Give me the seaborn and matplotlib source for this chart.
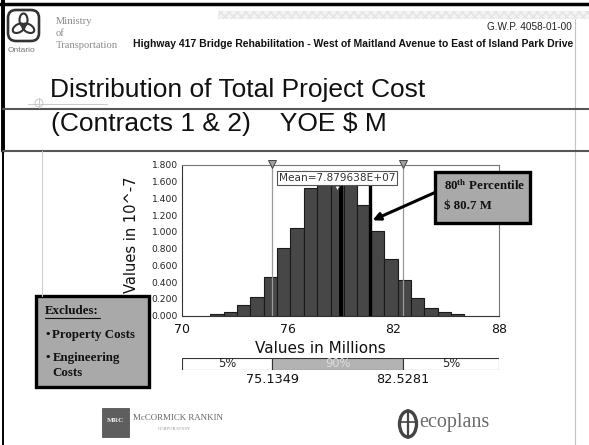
import numpy as np
import pandas as pd
import matplotlib
matplotlib.use("Agg")
import matplotlib.pyplot as plt
from matplotlib.patches import Rectangle, FancyBboxPatch, Circle, Ellipse
from matplotlib.ticker import FuncFormatter
import seaborn as sns

# ---- simulation output: total project cost (millions, YOE $) ----
bin_start = 71.6
bin_width = 0.76
bin_heights = [0.016, 0.048, 0.127, 0.22, 0.466, 0.805, 1.048, 1.52, 1.57,
               1.62, 1.58, 1.32, 1.016, 0.673, 0.426, 0.213, 0.088, 0.044, 0.016]
mean_value = 78.79638          # millions
p5_value = 75.1349
p95_value = 82.5281
p80_value = 80.7
median_value = 79.05
x_ticks = [70, 76, 82, 88]
y_ticks = [0.0, 0.2, 0.4, 0.6, 0.8, 1.0, 1.2, 1.4, 1.6, 1.8]
band_bounds = [70, p5_value, p95_value, 88]
band_labels = ["5%", "90%", "5%"]
excluded_items = ["Property Costs", "Engineering\nCosts"]

sns.set_style("white")
plt.rcParams["font.family"] = ["DejaVu Sans"]
plt.rcParams["mathtext.fontset"] = "custom"
plt.rcParams["mathtext.bf"] = "Liberation Serif:bold"
plt.rcParams["mathtext.rm"] = "Liberation Serif"

W, H = 589, 445
fig = plt.figure(figsize=(W / 100, H / 100), dpi=100)
fig.patch.set_facecolor("white")


def fx(px):
    return px / W


def fy(py):
    return 1 - py / H


# ---- histogram ----
edges = [bin_start + bin_width * k for k in range(len(bin_heights) + 1)]
centers = [(a + b) / 2 for a, b in zip(edges[:-1], edges[1:])]
df = pd.DataFrame({"cost": centers, "weight": bin_heights})

ax = fig.add_axes([fx(182), fy(315.7), fx(317), 150.7 / H])
sns.histplot(data=df, x="cost", weights="weight", bins=edges, ax=ax,
             color="#474747", edgecolor="#1a1a1a", linewidth=0.8, alpha=1.0)
ax.set_xlim(70, 88)
ax.set_ylim(0, 1.8)
ax.set_xticks(x_ticks)
ax.set_yticks(y_ticks)
ax.yaxis.set_major_formatter(FuncFormatter(lambda v, _: f"{v:.3f}"))
ax.tick_params(axis="y", direction="inout", length=4, width=0.7, labelsize=6.6,
               pad=1, colors="#222")
ax.tick_params(axis="x", direction="inout", length=4, width=0.7, labelsize=9,
               pad=3, colors="#111")
ax.set_xlabel("Values in Millions", fontsize=11, labelpad=1, color="#111")
ax.xaxis.set_label_coords(0.435, -0.165)
ax.set_ylabel("Values in 10^-7", fontsize=10.5, color="#111")
ax.yaxis.set_label_coords(-0.135, 0.54)
for side in ["left", "bottom"]:
    ax.spines[side].set_color("#333")
    ax.spines[side].set_linewidth(0.8)
for side in ["top", "right"]:
    ax.spines[side].set_color("#777")
    ax.spines[side].set_linewidth(0.8)

# 5% / 95% markers
for v in [p5_value, p95_value]:
    ax.axvline(v, color="#9a9a9a", lw=0.9, zorder=3)
ax.plot([p5_value, p95_value], [1.815, 1.815], ls="none", marker="v", ms=6,
        color="#a0a0a0", mec="#444", mew=0.7, clip_on=False, zorder=6)

# mean / 80th percentile lines
ax.vlines([median_value], 0, 1.57, color="black", lw=2.8, zorder=4)
ax.vlines([p80_value], 0, 1.57, color="black", lw=2.4, zorder=4)
ax.text(mean_value, 1.645, f"Mean={mean_value * 1e6:.6E}", ha="center", va="center",
        fontsize=7.6, color="#333", zorder=7,
        bbox=dict(boxstyle="square,pad=0.15", fc="white", ec="#555", lw=0.8))
ax.plot([mean_value], [1.525], ls="none", marker="v", ms=3.5, color="white",
        mec="#444", mew=0.6, zorder=8)

ax.annotate("", xy=(p80_value + 0.12, 1.14), xycoords="data",
            xytext=(fx(436), fy(192)), textcoords="figure fraction",
            arrowprops=dict(arrowstyle="-|>", color="black", lw=2.2,
                            mutation_scale=11, shrinkA=0, shrinkB=0),
            annotation_clip=False, zorder=9)

# ---- percentile band below the histogram ----
bx = fig.add_axes([fx(182), fy(370), fx(317), 12.3 / H])
lefts = band_bounds[:-1]
widths = np.diff(band_bounds)
bx.barh([0, 0, 0], widths, left=lefts, height=1,
        color=["white", "#b3b3b3", "white"], edgecolor="#333", linewidth=0.8)
bx.set_xlim(70, 88)
bx.set_ylim(-0.5, 0.5)
bx.axis("off")
for l, w, lab in zip(lefts, widths, band_labels):
    bx.text(l + w / 2, 0.02, lab, ha="center", va="center", fontsize=8.3,
            color="#dcdcdc" if lab == "90%" else "#222")
for v in [p5_value, p95_value]:
    bx.text(v, -1.3, f"{v:.4f}", ha="center", va="center", fontsize=9.3,
            color="#111", clip_on=False,
            bbox=dict(boxstyle="square,pad=0.12", fc="white", ec="none"))

# ---- slide decoration layer (pixel coordinates) ----
d = fig.add_axes([0, 0, 1, 1], zorder=10)
d.set_xlim(0, W)
d.set_ylim(H, 0)
d.axis("off")
d.patch.set_alpha(0)

# frame lines
d.plot([0, W], [3.5, 3.5], color="black", lw=2.5)
d.plot([3, 3], [0, 151], color="black", lw=2.8)
d.plot([3, 3], [151, H], color="black", lw=1.4)
d.plot([575, 575], [19, H], color="#c4c4c4", lw=0.8)
d.add_patch(Rectangle((218, 10.5), 371, 8.5, fc="#f3f3f3", ec="#e4e4e4",
                      hatch="xxxx", lw=0))
d.plot([3, W], [109.3, 109.3], color="#555", lw=1.5)
d.plot([3, W], [151, 151], color="#555", lw=1.5)
d.plot([41.7, 41.7], [151, 296], color="#cfcfcf", lw=0.8)
d.plot([28, 107], [104.3, 104.3], color="#c0c0c0", lw=0.6)
d.add_patch(Circle((39, 103), 4, fill=False, ec="#c0c0c0", lw=0.6))
d.plot([39, 39], [98, 108], color="#c0c0c0", lw=0.6)

# ministry logo
d.add_patch(FancyBboxPatch((8, 10), 31, 31, boxstyle="round,pad=0,rounding_size=8",
                           fc="none", ec="#333", lw=1.9))
for ang in [90, 210, 330]:
    r = np.deg2rad(ang)
    d.add_patch(Ellipse((23.5 + 5.5 * np.cos(r), 25.5 - 5.5 * np.sin(r)), 8, 13,
                        angle=-(ang - 90), fill=False, ec="#333", lw=1.5))
d.text(7.5, 50, "Ontario", fontsize=6, color="#777", family="Liberation Sans",
       va="center")
for t, yy in [("Ministry", 22), ("of", 34), ("Transportation", 46)]:
    d.text(56, yy, t, fontsize=7.6, color="#8a8a8a", family="Liberation Serif",
           va="center")
d.text(572, 27, "G.W.P. 4058-01-00", fontsize=7.2, color="#222",
       family="Liberation Sans", ha="right", va="center")
d.text(573, 44, "Highway 417 Bridge Rehabilitation - West of Maitland Avenue to "
       "East of Island Park Drive", fontsize=7.5, weight="bold", color="#111",
       family="Liberation Sans", ha="right", va="center")

# titles
d.text(50, 97.5, "Distribution of Total Project Cost", fontsize=19,
       family="Liberation Sans", color="#111", va="baseline")
d.text(50.7, 131, "(Contracts 1 & 2)    YOE $ M", fontsize=19,
       family="Liberation Sans", color="#111", va="baseline")

# exclusions box
d.add_patch(Rectangle((36, 296), 113, 91, fc="#a9a9a9", ec="black", lw=2.4))
d.text(45, 311.5, "Excludes:", fontsize=9.3, weight="bold", family="Liberation Serif",
       va="center", color="#111")
d.plot([45, 100], [317.5, 317.5], color="#111", lw=0.8)
yy = 335
for item in excluded_items:
    lines = item.split("\n")
    d.text(45, yy, "\u2022", fontsize=9.3, weight="bold", family="Liberation Serif",
           va="center", color="#111")
    for k, ln in enumerate(lines):
        d.text(52.5, yy + 15 * k, ln, fontsize=9.3, weight="bold",
               family="Liberation Serif", va="center", color="#111")
    yy += 23

# 80th percentile callout
d.add_patch(Rectangle((435, 172), 95, 51, fc="#a9a9a9", ec="black", lw=2.4))
d.text(444, 186, r"$\mathbf{80^{th}}$ Percentile", fontsize=9.3, weight="bold",
       family="Liberation Serif", va="center", color="#111")
d.text(444, 206, f"$ {p80_value:.1f} M", fontsize=9.3, weight="bold",
       family="Liberation Serif", va="center", color="#111")

# consultant logos
d.add_patch(Rectangle((102, 408), 27, 29, fc="#5e5e5e", ec="#444", lw=0.5))
d.text(115.5, 421, "MRC", fontsize=5.2, color="#eee", ha="center", va="center",
       family="Liberation Serif", weight="bold")
d.text(133, 418, "McCORMICK RANKIN", fontsize=6.4, color="#666",
       family="Liberation Serif", va="center")
d.text(158, 429, "CORPORATION", fontsize=3.3, color="#999",
       family="Liberation Serif", va="center")
d.add_patch(Ellipse((408, 424), 17, 26, fill=False, ec="#444", lw=2.4))
d.plot([408, 408], [410, 438], color="#444", lw=1.6)
d.plot([399.5, 416.5], [422, 422], color="#444", lw=1.2)
d.text(419, 423, "ecoplans", fontsize=14.5, color="#6a6a6a",
       family="Liberation Serif", va="center")

fig.savefig("out.png", dpi=100)
